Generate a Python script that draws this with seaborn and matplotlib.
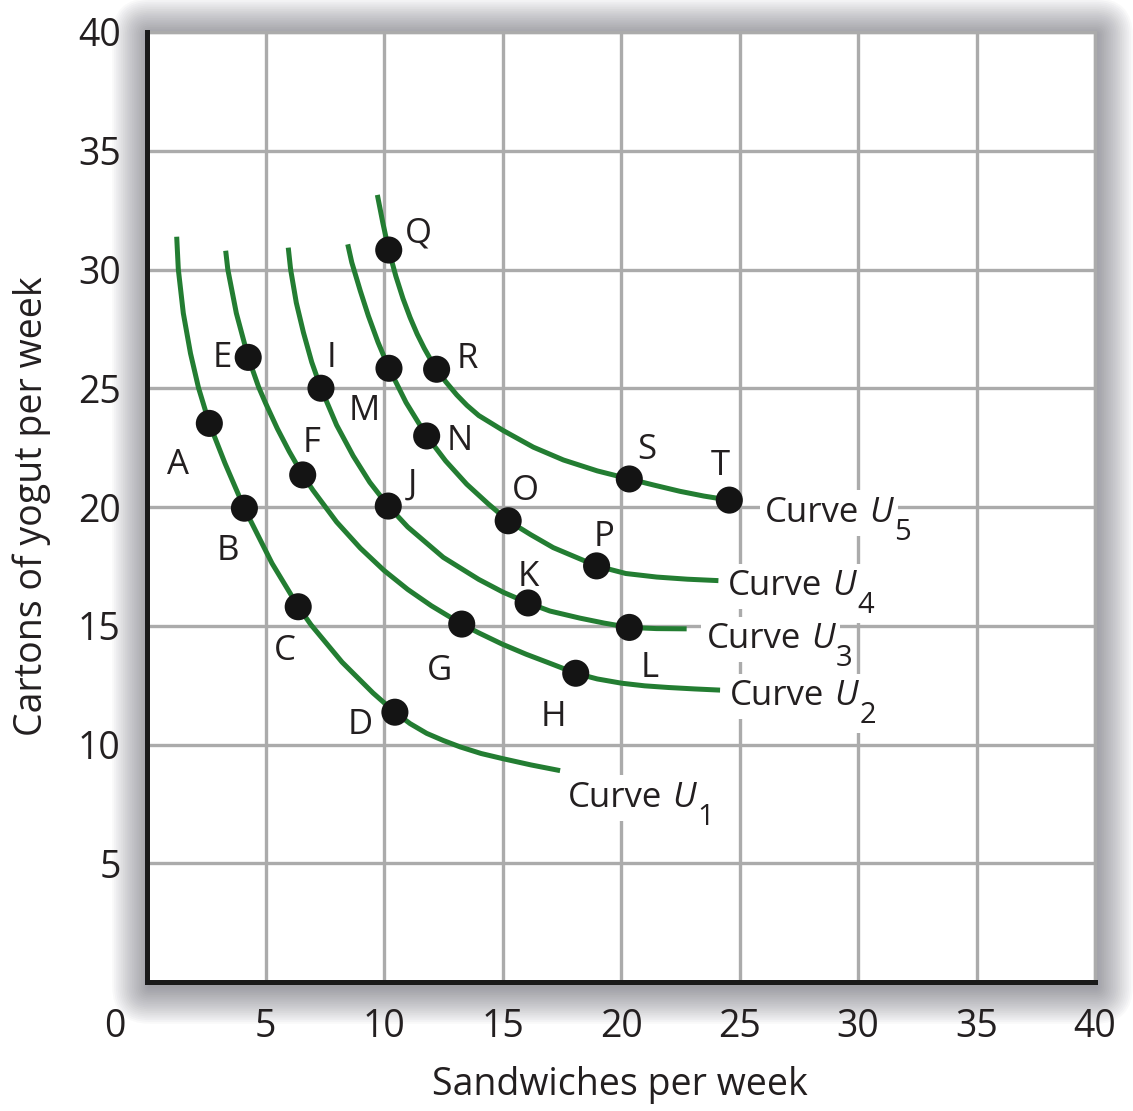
import matplotlib
matplotlib.use("Agg")
import matplotlib.pyplot as plt
import seaborn as sns
import pandas as pd
from matplotlib.patches import FancyBboxPatch

# ---------------- data ----------------
u1_x = [1.253, 1.321, 1.532, 1.835, 2.173, 2.629, 3.291, 4.105, 5.274, 6.384,
        6.92, 8.228, 9.536, 10.46, 11.1, 11.80, 12.5, 13.21, 14.1, 15.03, 16.2, 17.43]
u1_y = [31.38, 30.01, 28.16, 26.47, 25.02, 23.52, 21.84, 19.95, 17.63, 15.80,
        15.04, 13.47, 12.17, 11.36, 10.88, 10.47, 10.17, 9.90, 9.62, 9.40, 9.14, 8.90]

u2_x = [3.32, 3.41, 3.77, 4.27, 4.71, 5.0, 5.5, 6.0, 6.57, 7.0, 8.0, 9.0, 10.0,
        11.0, 12.0, 13.28, 14.0, 15.0, 16.0, 17.0, 18.09, 19.0, 20.03, 21.0, 22.0,
        23.1, 24.18]
u2_y = [30.79, 30.0, 28.16, 26.30, 25.05, 24.38, 23.30, 22.34, 21.35, 20.71, 19.37,
        18.27, 17.33, 16.53, 15.84, 15.07, 14.70, 14.22, 13.80, 13.42, 13.0, 12.76,
        12.58, 12.47, 12.40, 12.34, 12.29]

u3_x = [5.96, 6.06, 6.30, 6.60, 6.95, 7.34, 8.0, 8.70, 9.4, 10.18, 11.0, 12.5,
        14.0, 15.03, 16.08, 17.0, 18.27, 19.3, 20.35, 21.5, 22.77]
u3_y = [30.92, 30.0, 28.6, 27.35, 26.1, 25.0, 23.45, 22.15, 21.04, 20.04, 19.16,
        17.88, 16.95, 16.41, 15.96, 15.62, 15.32, 15.11, 14.93, 14.88, 14.87]

u4_x = [8.47, 8.64, 9.0, 9.34, 9.75, 10.21, 10.93, 11.80, 12.6, 13.49, 14.4,
        15.24, 16.2, 17.14, 18.97, 20.2, 21.51, 22.8, 24.11]
u4_y = [31.06, 30.3, 29.1, 28.05, 26.93, 25.84, 24.40, 22.99, 21.94, 20.96, 20.13,
        19.42, 18.83, 18.29, 17.52, 17.20, 17.05, 16.96, 16.90]

u5_x = [9.72, 9.95, 10.20, 10.5, 10.8, 11.1, 11.4, 11.7, 12.0, 12.22, 12.6, 13.07,
        13.5, 14.0, 15.03, 16.3, 17.57, 19.0, 20.35, 21.4, 22.49, 23.5, 24.57]
u5_y = [33.14, 31.97, 30.82, 29.72, 28.78, 27.98, 27.28, 26.68, 26.15, 25.80, 25.28,
        24.72, 24.28, 23.85, 23.22, 22.52, 21.98, 21.52, 21.18, 20.92, 20.66, 20.46, 20.29]

point_names = list("ABCDEFGHIJKLMNOPQRST")
point_x = [2.63, 4.11, 6.38, 10.46, 4.27, 6.57, 13.28, 18.09, 7.34, 10.18,
           16.08, 20.35, 10.21, 11.80, 15.24, 18.97, 10.20, 12.22, 20.35, 24.57]
point_y = [23.52, 19.95, 15.80, 11.36, 26.30, 21.35, 15.07, 13.0, 25.0, 20.04,
           15.96, 14.93, 25.84, 22.99, 19.42, 17.52, 30.82, 25.80, 21.18, 20.29]

curve_names = ["U1", "U2", "U3", "U4", "U5"]
curve_subs = ["1", "2", "3", "4", "5"]

x_ticks = [5, 10, 15, 20, 25, 30, 35, 40]
y_ticks = [5, 10, 15, 20, 25, 30, 35, 40]

# ---------------- annotation placement ----------------
point_label_pos = [(1.31, 21.9), (3.42, 18.27), (5.82, 14.06), (8.99, 10.95),
                   (3.16, 26.4), (6.96, 22.82), (12.36, 13.22), (17.17, 11.28),
                   (7.8, 26.4), (11.18, 21.05), (16.08, 17.18), (21.22, 13.35),
                   (9.16, 24.17), (13.2, 22.9), (15.95, 20.8), (19.3, 18.86),
                   (11.43, 31.66), (13.5, 26.36), (21.1, 22.53), (24.18, 21.85)]
curve_label_pos = [(17.76, 7.37), (24.6, 11.66), (23.63, 14.06), (24.51, 16.29), (26.08, 19.37)]

GREEN = "#237d32"
TEXT = "#231f20"

sns.set_theme(style="white")
plt.rcParams["font.family"] = ["Open Sans", "DejaVu Sans"]

curve_df = pd.concat([
    pd.DataFrame({"x": xs, "y": ys, "curve": name})
    for name, xs, ys in zip(curve_names, [u1_x, u2_x, u3_x, u4_x, u5_x],
                            [u1_y, u2_y, u3_y, u4_y, u5_y])
], ignore_index=True)
pts_df = pd.DataFrame({"x": point_x, "y": point_y, "name": point_names})

W, H = 1133, 1111
fig = plt.figure(figsize=(W / 100, H / 100), dpi=100)
fig.patch.set_facecolor("white")
L, R, T, B = 147, 1095, 32, 982
ax = fig.add_axes([L / W, (H - B) / H, (R - L) / W, (B - T) / H])

# drop shadow around plot box (display coords)
for k in range(1, 22):
    d = 1.8 * k
    sh = FancyBboxPatch((L - d + 3, H - B - d - 4), (R - L) + 2 * d - 3, (B - T) + 2 * d,
                        boxstyle=f"round,pad=0,rounding_size={d}",
                        transform=None, facecolor="#3a3a48", edgecolor="none",
                        alpha=0.028, zorder=-5)
    fig.add_artist(sh)

ax.set_facecolor("white")
sns.lineplot(data=curve_df, x="x", y="y", hue="curve",
             palette=[GREEN] * 5, estimator=None, sort=False,
             linewidth=3.6, legend=False, ax=ax, zorder=3)
for ln in ax.lines:
    ln.set_solid_capstyle("butt")
    ln.set_solid_joinstyle("round")
sns.scatterplot(data=pts_df, x="x", y="y", s=380, color="#141414",
                edgecolor="none", linewidth=0, legend=False, ax=ax, zorder=4)

ax.set_xlim(0, 40)
ax.set_ylim(0, 40)
ax.set_xticks(x_ticks)
ax.set_yticks(y_ticks)
ax.set_xticklabels([str(v) for v in x_ticks])
ax.set_yticklabels([str(v) for v in y_ticks])
ax.grid(True, color="#ababab", linewidth=2.4)
ax.set_axisbelow(True)
for s in ["left", "bottom"]:
    ax.spines[s].set_color("#1a1a1a")
    ax.spines[s].set_linewidth(3.6)
    ax.spines[s].set_zorder(6)
for s in ["top", "right"]:
    ax.spines[s].set_color("#ababab")
    ax.spines[s].set_linewidth(2.4)
ax.tick_params(length=0, pad=19, labelsize=27, colors=TEXT)
ax.set_xlabel("")
ax.set_ylabel("")
ax.annotate("0", xy=(0, 0), xycoords="data", xytext=(-23, -19),
            textcoords="offset points", ha="center", va="top",
            fontsize=27, color=TEXT, annotation_clip=False)

fig.text(620 / W, 1 - 1085 / H, "Sandwiches per week", ha="center", va="center",
         fontsize=27, color=TEXT)
fig.text(32 / W, 1 - 506 / H, "Cartons of yogut per week", rotation=90,
         ha="center", va="center", fontsize=27, color=TEXT)

# point labels
for name, (lx, ly) in zip(point_names, point_label_pos):
    ax.annotate(name, xy=(lx, ly), xytext=(0, -8.6), textcoords="offset points",
                ha="center", va="baseline", fontsize=25, color=TEXT, zorder=5)

# curve labels: "Curve" + italic U + lowered digit
box = dict(facecolor="white", edgecolor="none", pad=4)
for sub, (cx, cy) in zip(curve_subs, curve_label_pos):
    t1 = ax.text(cx, cy, "Curve", fontsize=25, ha="left", va="baseline",
                 color=TEXT, bbox=box, zorder=5)
    t2 = ax.annotate("U", xy=(1, 0), xycoords=t1, xytext=(7, 0),
                     textcoords="offset points", ha="left", va="bottom",
                     fontsize=25, style="italic", color=TEXT, bbox=box, zorder=5)
    ax.annotate(sub, xy=(1, 0), xycoords=t2, xytext=(1, -12),
                textcoords="offset points", ha="left", va="bottom",
                fontsize=21, color=TEXT, bbox=dict(facecolor="white", edgecolor="none", pad=2),
                zorder=5)

fig.savefig("out.png", dpi=100, facecolor="white")
